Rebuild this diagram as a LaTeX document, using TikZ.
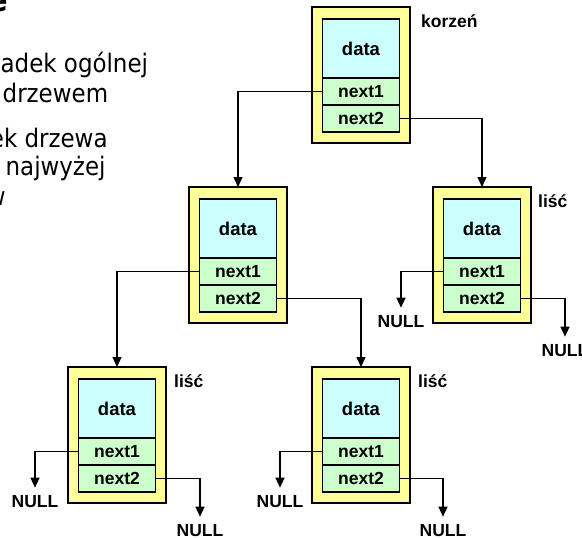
\documentclass[tikz,border=0pt]{standalone}
\usepackage{fontspec}
\setmainfont{Liberation Sans}
\newfontfamily\slidefont{DejaVu Sans Condensed}
\usetikzlibrary{arrows.meta, positioning}
\definecolor{boxyellow}{HTML}{FFFF99}
\definecolor{datacyan}{HTML}{CCFFFF}
\definecolor{ptrgreen}{HTML}{CCFFCC}

\begin{document}
\begin{tikzpicture}[x=1pt, y=-1pt, font=\bfseries\fontsize{17.5}{19}\selectfont]
  \tikzstyle{record} = [rectangle, draw, line width=1.8pt, fill=boxyellow, minimum width=98pt, minimum height=136pt, inner sep=0pt, outer sep=0pt]
  \tikzstyle{datafield} = [rectangle, draw, line width=1.5pt, fill=datacyan, minimum width=77pt, minimum height=59pt, inner sep=0pt, outer sep=0pt, font=\bfseries\fontsize{18.5}{20}\selectfont]
  \tikzstyle{ptrfield} = [rectangle, draw, line width=1.5pt, fill=ptrgreen, minimum width=77pt, minimum height=27pt, inner sep=0pt, outer sep=0pt]
  \tikzstyle{rolelabel} = [inner sep=0pt]
  \tikzstyle{nullnode} = [inner xsep=0pt, inner ysep=8pt]
  \tikzstyle{connector} = [draw, line width=1.3pt, -{Triangle[length=10pt, width=9pt]}]
  \tikzstyle{slidetext} = [inner sep=0pt, anchor=base west, font=\slidefont\fontsize{25.5}{28}\selectfont]
  \useasboundingbox (0,0) rectangle (582,538);
  \clip (0,0) rectangle (582,538);
  % text of the slide, cut at the left edge
  \node [slidetext, font=\slidefont\bfseries\fontsize{32}{36}\selectfont] (title) at (-12,12) {e};
  \node [slidetext] (line1) at (0.5,72) {adek ogólnej};
  \node [slidetext] (line2) at (2.5,102) {drzewem};
  \node [slidetext] (line3) at (-10.3,147) {ek drzewa};
  \node [slidetext] (line4) at (5.5,175) {najwyżej};
  \node [slidetext] (line5) at (-13.4,205) {w};
  % root
  \node [record] (root) at (361,75) {};
  \node [datafield, below = 12pt of root.north] (rootdata) {data};
  \node [ptrfield, below = 0pt of rootdata] (rootnext1) {next1};
  \node [ptrfield, below = 0pt of rootnext1] (rootnext2) {next2};
  \node [rolelabel, right = 11pt of root.north east, yshift=-14pt] (rootrole) {korzeń};
  % inner node
  \node [record] (mid) at (238,255) {};
  \node [datafield, below = 12pt of mid.north] (middata) {data};
  \node [ptrfield, below = 0pt of middata] (midnext1) {next1};
  \node [ptrfield, below = 0pt of midnext1] (midnext2) {next2};
  % right leaf
  \node [record] (leafc) at (482,255) {};
  \node [datafield, below = 12pt of leafc.north] (leafcdata) {data};
  \node [ptrfield, below = 0pt of leafcdata] (leafcnext1) {next1};
  \node [ptrfield, below = 0pt of leafcnext1] (leafcnext2) {next2};
  \node [rolelabel, right = 7pt of leafc.north east, yshift=-14pt] (leafcrole) {liść};
  % bottom left leaf
  \node [record] (leafa) at (117,435) {};
  \node [datafield, below = 12pt of leafa.north] (leafadata) {data};
  \node [ptrfield, below = 0pt of leafadata] (leafanext1) {next1};
  \node [ptrfield, below = 0pt of leafanext1] (leafanext2) {next2};
  \node [rolelabel, right = 8pt of leafa.north east, yshift=-14pt] (leafarole) {liść};
  % bottom right leaf
  \node [record] (leafb) at (361,435) {};
  \node [datafield, below = 12pt of leafb.north] (leafbdata) {data};
  \node [ptrfield, below = 0pt of leafbdata] (leafbnext1) {next1};
  \node [ptrfield, below = 0pt of leafbnext1] (leafbnext2) {next2};
  \node [rolelabel, right = 8pt of leafb.north east, yshift=-14pt] (leafbrole) {liść};
  % empty pointers
  \node [nullnode] (nullc1) at (401,322) {NULL};
  \node [nullnode] (nullc2) at (565,351) {NULL};
  \node [nullnode] (nulla1) at (35,502) {NULL};
  \node [nullnode] (nulla2) at (200,531) {NULL};
  \node [nullnode] (nullb1) at (280,502) {NULL};
  \node [nullnode] (nullb2) at (443,531) {NULL};
  \path [connector] (rootnext1.west) -| (mid.north);
  \path [connector] (rootnext2.east) -| (leafc.north);
  \path [connector] (midnext1.west) -| (leafa.north);
  \path [connector] (midnext2.east) -| (leafb.north);
  \path [connector] (leafcnext1.west) -| (nullc1.north);
  \path [connector] (leafcnext2.east) -| (nullc2.north);
  \path [connector] (leafanext1.west) -| (nulla1.north);
  \path [connector] (leafanext2.east) -| (nulla2.north);
  \path [connector] (leafbnext1.west) -| (nullb1.north);
  \path [connector] (leafbnext2.east) -| (nullb2.north);
\end{tikzpicture}
\end{document}
